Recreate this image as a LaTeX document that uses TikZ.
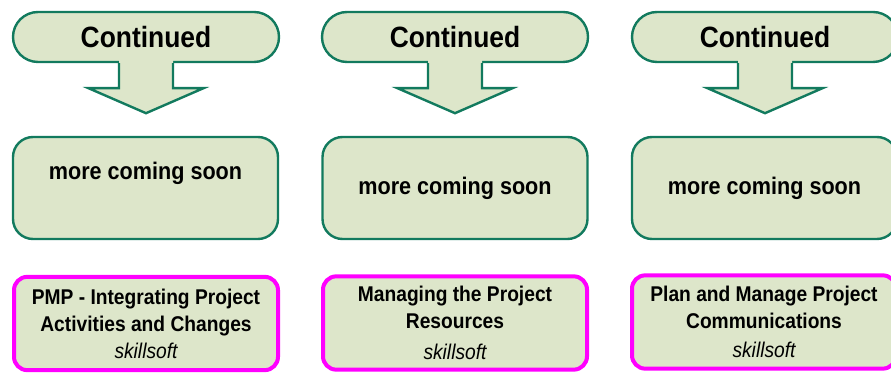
\documentclass[tikz,border=0pt]{standalone}
\usepackage{fontspec}
\setmainfont{Liberation Sans}[FakeStretch=0.9]
\usetikzlibrary{shapes.misc, positioning}
\definecolor{boxfill}{RGB}{221,230,202}
\definecolor{boxline}{RGB}{18,122,94}
\definecolor{coursepink}{RGB}{255,0,255}
\newcommand{\vendorname}[1]{{\mdseries\itshape #1}}
\tikzset{contbox/.style={draw=boxline, fill=boxfill, line width=1.8pt, rounded rectangle, inner sep=0pt, minimum width=199.5pt, minimum height=37.5pt, font=\fontsize{22}{26}\selectfont\bfseries}}
\tikzset{contarrow/.style={draw=boxline, line width=1.8pt, line join=miter}}
\tikzset{morebox/.style={draw=boxline, fill=boxfill, line width=1.8pt, rounded corners=15pt, inner sep=0pt, minimum width=198.75pt, minimum height=76.5pt, font=\fontsize{18}{22}\selectfont\bfseries}}
\tikzset{moretext/.style={inner sep=0pt, font=\fontsize{18}{22}\selectfont\bfseries}}
\tikzset{coursebox/.style={draw=coursepink, fill=boxfill, line width=3pt, rounded corners=10pt, inner sep=0pt, minimum width=198pt, minimum height=70pt, align=center, font=\fontsize{16}{20.25}\selectfont\bfseries}}

\begin{document}
\begin{tikzpicture}[x=0.75pt, y=-0.75pt]
    \useasboundingbox (0,0) rectangle (891,373);
    \clip (0,0) rectangle (891,373);

    % continued callouts
    \node [contbox] (Cont1) at (146, 37) { Continued };
    \node [contbox] (Cont2) at (455, 37) { Continued };
    \node [contbox] (Cont3) at (765, 37) { Continued };

    \fill [boxfill] ([shift={(-27,-3)}]Cont1.south) -- ++(0,28) -- ++(-30.5,0) -- ++(57.5,25) -- ++(57.5,-25) -- ++(-30.5,0) -- ++(0,-28) -- cycle;
    \draw [contarrow] ([shift={(-27,0)}]Cont1.south) -- ++(0,25) -- ++(-30.5,0) -- ++(57.5,25) -- ++(57.5,-25) -- ++(-30.5,0) -- ++(0,-25);
    \fill [boxfill] ([shift={(-27,-3)}]Cont2.south) -- ++(0,28) -- ++(-30.5,0) -- ++(57.5,25) -- ++(57.5,-25) -- ++(-30.5,0) -- ++(0,-28) -- cycle;
    \draw [contarrow] ([shift={(-27,0)}]Cont2.south) -- ++(0,25) -- ++(-30.5,0) -- ++(57.5,25) -- ++(57.5,-25) -- ++(-30.5,0) -- ++(0,-25);
    \fill [boxfill] ([shift={(-27,-3)}]Cont3.south) -- ++(0,28) -- ++(-30.5,0) -- ++(57.5,25) -- ++(57.5,-25) -- ++(-30.5,0) -- ++(0,-28) -- cycle;
    \draw [contarrow] ([shift={(-27,0)}]Cont3.south) -- ++(0,25) -- ++(-30.5,0) -- ++(57.5,25) -- ++(57.5,-25) -- ++(-30.5,0) -- ++(0,-25);

    % placeholders
    \node [morebox] (More1) at (145.5, 188) {};
    \node [moretext] (MoreText1) at (145.5, 173) { more coming soon };
    \node [morebox] (More2) at (455, 188) { more coming soon };
    \node [morebox] (More3) at (764.5, 188) { more coming soon };

    % courses
    \node [coursebox] (Course1) at (146, 323.5) { PMP - Integrating Project\\ Activities and Changes\\ \vendorname{skillsoft} };
    \node [coursebox] (Course2) at (455, 323) { Managing the Project\\ Resources\\[3pt] \vendorname{skillsoft} };
    \node [coursebox] (Course3) at (764, 322) { Plan and Manage Project\\ Communications\\[2pt] \vendorname{skillsoft} };
\end{tikzpicture}
\end{document}
